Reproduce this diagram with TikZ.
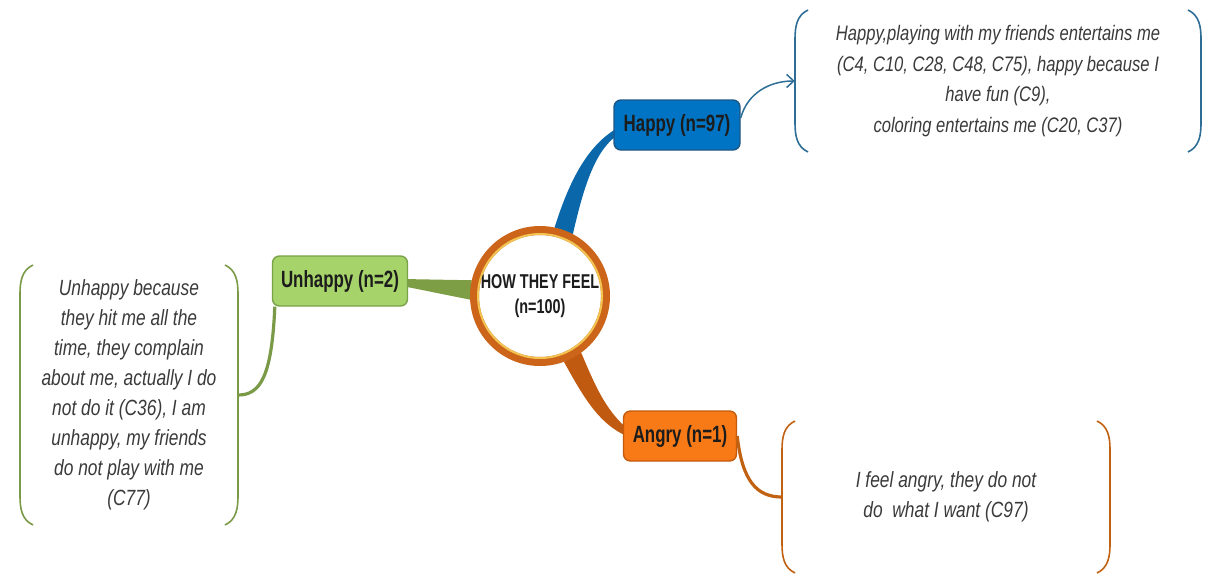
\documentclass[tikz,border=0pt]{standalone}
\usepackage{fontspec}
\setmainfont{Liberation Sans}
\newfontfamily\quotefont[FakeStretch=0.79]{Liberation Sans}
\newfontfamily\labelfont[FakeStretch=0.72]{Liberation Sans}
\usetikzlibrary{arrows.meta}
\usetikzlibrary{backgrounds}
\usetikzlibrary{calc}
\usetikzlibrary{positioning}

\definecolor{labeltext}{RGB}{28,28,28}
\definecolor{quotetext}{RGB}{58,58,58}
\definecolor{hubring}{RGB}{204,100,26}
\definecolor{hubgold}{RGB}{242,196,80}
\definecolor{happyfill}{RGB}{0,116,196}
\definecolor{happyedge}{RGB}{30,86,134}
\definecolor{happybranch}{RGB}{10,104,170}
\definecolor{happyline}{RGB}{46,110,150}
\definecolor{sadfill}{RGB}{166,212,106}
\definecolor{sadedge}{RGB}{122,162,72}
\definecolor{sadbranch}{RGB}{126,158,70}
\definecolor{sadline}{RGB}{122,154,72}
\definecolor{angryfill}{RGB}{248,122,22}
\definecolor{angryedge}{RGB}{196,90,14}
\definecolor{angrybranch}{RGB}{192,90,16}
\definecolor{angryline}{RGB}{192,98,18}

\tikzset{
  topic/.style={rectangle, rounded corners=7pt, line width=1.4pt, text=labeltext,
    font=\labelfont\bfseries\fontsize{23.5}{26}\selectfont, minimum height=50pt, inner sep=2pt},
  quote/.style={align=center, text=quotetext, inner sep=0pt,
    font=\quotefont\itshape\fontsize{22}{30}\selectfont,
    path picture={
      \draw [#1, line width=1.6pt]
        ([shift={(15pt,-1pt)}]path picture bounding box.north west) to [out=205, in=90]
        ([shift={(2pt,-30pt)}]path picture bounding box.north west) --
        ([shift={(2pt,30pt)}]path picture bounding box.south west) to [out=-90, in=155]
        ([shift={(15pt,1pt)}]path picture bounding box.south west);
      \draw [#1, line width=1.6pt]
        ([shift={(-15pt,-1pt)}]path picture bounding box.north east) to [out=-25, in=90]
        ([shift={(-2pt,-30pt)}]path picture bounding box.north east) --
        ([shift={(-2pt,30pt)}]path picture bounding box.south east) to [out=-90, in=25]
        ([shift={(-15pt,1pt)}]path picture bounding box.south east);
    }},
}

\begin{document}
\begin{tikzpicture}[x=1pt, y=1pt]
  \useasboundingbox (0,0) rectangle (1209,-573);

  % central topic
  \node [circle, draw=hubring, line width=9pt, fill=white, minimum size=131pt, inner sep=0pt,
         align=center, text=labeltext, font=\labelfont\bfseries\fontsize{20}{25}\selectfont]
        (hub) at (540,-296) {HOW THEY FEEL\\(n=100)};
  \draw [hubgold, line width=2pt] (hub.center) circle (62);

  % branches
  \node [topic, fill=happyfill, draw=happyedge, minimum width=126pt] (happy) at (677,-125) {Happy (n=97)};
  \node [topic, fill=sadfill, draw=sadedge, minimum width=135pt] (sad) at (340,-281) {Unhappy (n=2)};
  \node [topic, fill=angryfill, draw=angryedge, minimum width=113pt] (angry) at (680,-436) {Angry (n=1)};

  % what the children said
  \node [quote=happyline, minimum width=410pt, minimum height=144pt,
         font=\quotefont\itshape\fontsize{21}{30.5}\selectfont] (happytxt) at (998,-81)
        {Happy,playing with my friends entertains me\\(C4, C10, C28, C48, C75), happy because I\\have fun (C9),\\coloring entertains me (C20, C37)};
  \node [quote=sadline, minimum width=222pt, minimum height=262pt] (sadtxt) at (129,-395)
        {Unhappy because\\they hit me all the\\time, they complain\\about me, actually I do\\not do it (C36), I am\\unhappy, my friends\\do not play with me\\(C77)};
  \node [quote=angryline, minimum width=332pt, minimum height=154pt] (angrytxt) at (946,-497)
        {I feel angry, they do not\\do\ \ what I want (C97)};

  \begin{pgfonlayer}{background}
    \fill [happybranch] (hub.62) .. controls (584,-185) and (596,-148) .. ([xshift=6,yshift=-9]happy.west)
      -- ([xshift=6,yshift=-2]happy.west) .. controls (586,-145) and (568,-185) .. (hub.78) -- cycle;
    \fill [sadbranch] (hub.167) -- ([xshift=-6,yshift=2]sad.east)
      -- ([xshift=-6,yshift=-5]sad.east) -- (hub.183) -- cycle;
    \fill [angrybranch] (hub.-70) .. controls (585,-400) and (600,-425) .. ([xshift=6,yshift=-1]angry.west)
      -- ([xshift=6,yshift=6]angry.west) .. controls (605,-410) and (595,-385) .. (hub.-54) -- cycle;
  \end{pgfonlayer}

  \draw [happyline, line width=1.5pt, -{Straight Barb[length=7pt,width=13pt]}]
    ([yshift=7]happy.east) to [out=75, in=180] ([xshift=2]happytxt.west);
  \draw [sadline, line width=3.2pt]
    ([xshift=3]sad.south west) .. controls +(-3,-70) and +(22,0) .. ([xshift=-2]sadtxt.east);
  \draw [angryline, line width=3.2pt]
    (angry.east) .. controls +(5,-45) and +(-25,0) .. ([xshift=2]angrytxt.west);

\end{tikzpicture}
\end{document}
